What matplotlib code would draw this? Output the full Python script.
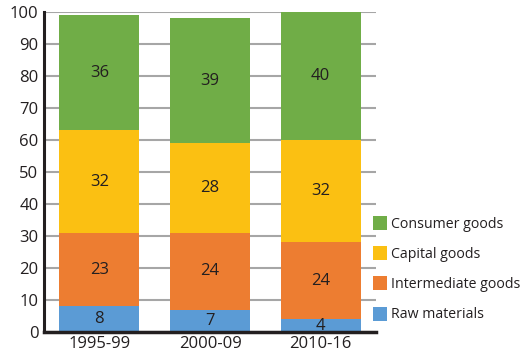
import matplotlib
matplotlib.use("Agg")
import matplotlib.pyplot as plt
import numpy as np

plt.rcParams['font.family'] = ['Open Sans', 'DejaVu Sans']

periods = ["1995-99", "2000-09", "2010-16"]
raw_materials = [8, 7, 4]
intermediate_goods = [23, 24, 24]
capital_goods = [32, 28, 32]
consumer_goods = [36, 39, 40]

series = [
    ("Raw materials", raw_materials, "#5B9BD5"),
    ("Intermediate goods", intermediate_goods, "#ED7D31"),
    ("Capital goods", capital_goods, "#FBC012"),
    ("Consumer goods", consumer_goods, "#70AD47"),
]

text_color = "#231F20"

fig = plt.figure(figsize=(5.27, 3.55), dpi=100)
ax = fig.add_axes([0.0835, 0.065, 0.63, 0.901])

x = np.arange(len(periods))
bottom = np.zeros(len(periods))
handles = []
for name, vals, color in series:
    vals = np.array(vals, dtype=float)
    bars = ax.bar(x, vals, width=0.72, bottom=bottom, color=color, label=name, zorder=3)
    handles.append(bars)
    for xi, b, v in zip(x, bottom, vals):
        ax.text(xi, b + v / 2, f"{int(v)}", ha="center", va="center",
                fontsize=12, color=text_color, zorder=4)
    bottom += vals

ax.set_xlim(-0.5, 2.5)
ax.set_ylim(0, 100)
ax.set_yticks(range(0, 101, 10))
ax.set_xticks(x)
ax.set_xticklabels(periods)
ax.tick_params(axis="both", length=0, labelsize=12, colors=text_color)
ax.tick_params(axis="y", pad=4)
ax.tick_params(axis="x", pad=3)
ax.yaxis.grid(True, color="#A6A6A6", linewidth=1.5, zorder=0)
ax.set_axisbelow(True)

for s in ("top", "right"):
    ax.spines[s].set_visible(False)
ax.spines["left"].set_color(text_color)
ax.spines["left"].set_linewidth(2.2)
ax.spines["bottom"].set_color(text_color)
ax.spines["bottom"].set_linewidth(2.5)
ax.spines["left"].set_zorder(5)
ax.spines["bottom"].set_zorder(5)

leg = fig.legend(handles[::-1], [s[0] for s in series][::-1],
                 loc="upper left", bbox_to_anchor=(0.697, 0.408),
                 frameon=False, fontsize=10.2, handlelength=1.0, handleheight=1.15,
                 handletextpad=0.25, labelspacing=1.02, borderaxespad=0)
for t in leg.get_texts():
    t.set_color(text_color)

fig.savefig("out.png", dpi=100)
